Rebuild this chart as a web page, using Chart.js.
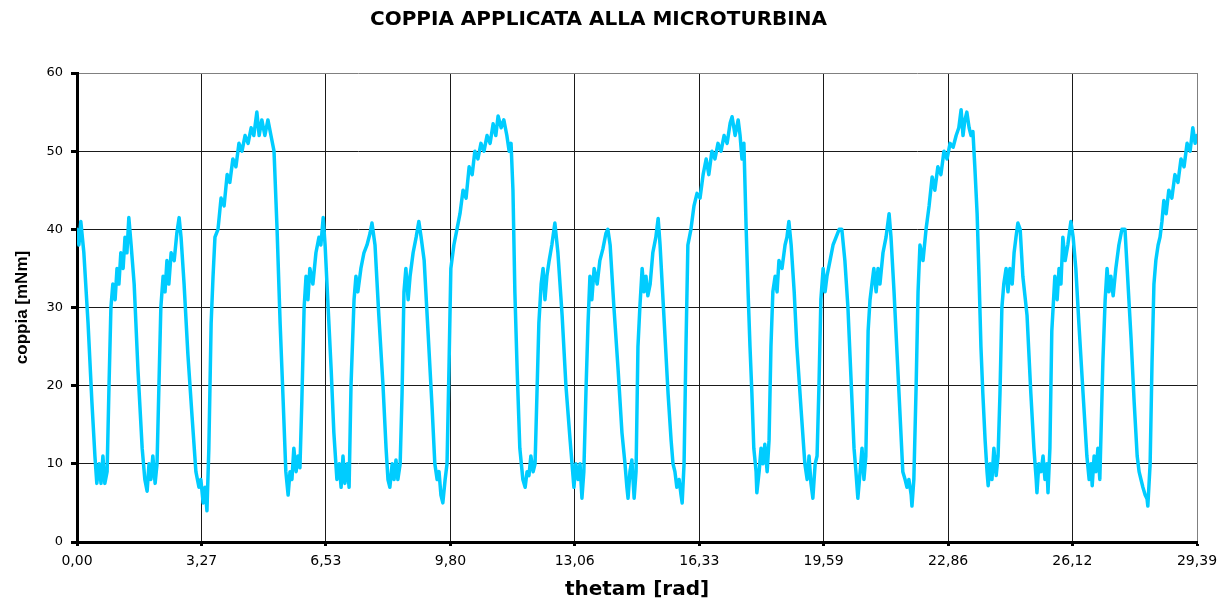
<!DOCTYPE html>
<html>
<head>
<meta charset="utf-8">
<title>Coppia applicata alla microturbina</title>
<script src="https://cdn.jsdelivr.net/npm/chart.js@4.4.1/dist/chart.umd.min.js"></script>
<style>
    html, body { margin: 0; padding: 0; background: #fff; }
    #wrap { width: 1218px; height: 600px; }
</style>
</head>
<body>
<div id="wrap"><canvas id="coppiaChart" width="1218" height="600"></canvas></div>
<script>
// angolo [rad]
const thetam = [
    0.00, 0.05, 0.10, 0.18, 0.29, 0.39, 0.47, 0.52, 0.58, 0.63, 0.68, 0.73, 0.79, 0.84, 0.89, 0.94, 1.00, 1.05, 1.10, 1.15,
    1.21, 1.26, 1.31, 1.36, 1.42, 1.50, 1.60, 1.71, 1.78, 1.84, 1.89, 1.94, 1.99, 2.05, 2.10, 2.15, 2.20, 2.26, 2.31, 2.36,
    2.41, 2.47, 2.55, 2.62, 2.68, 2.73, 2.81, 2.91, 3.02, 3.12, 3.20, 3.25, 3.31, 3.36, 3.41, 3.46, 3.52, 3.57, 3.62, 3.70,
    3.78, 3.86, 3.94, 4.01, 4.09, 4.17, 4.25, 4.33, 4.41, 4.49, 4.57, 4.64, 4.72, 4.78, 4.85, 4.93, 5.01, 5.09, 5.17, 5.25,
    5.33, 5.41, 5.48, 5.54, 5.59, 5.64, 5.69, 5.75, 5.80, 5.85, 5.90, 5.96, 6.01, 6.06, 6.11, 6.19, 6.27, 6.35, 6.40, 6.46,
    6.51, 6.59, 6.67, 6.74, 6.82, 6.88, 6.93, 6.98, 7.03, 7.09, 7.14, 7.19, 7.27, 7.32, 7.37, 7.45, 7.53, 7.61, 7.69, 7.74,
    7.82, 7.92, 8.03, 8.11, 8.16, 8.21, 8.27, 8.32, 8.37, 8.42, 8.48, 8.53, 8.58, 8.63, 8.69, 8.74, 8.82, 8.90, 8.97, 9.03,
    9.11, 9.21, 9.32, 9.39, 9.45, 9.50, 9.55, 9.60, 9.66, 9.71, 9.76, 9.81, 9.89, 9.97, 10.05, 10.13, 10.21, 10.29, 10.37, 10.44,
    10.52, 10.60, 10.68, 10.76, 10.84, 10.92, 10.99, 11.05, 11.13, 11.20, 11.28, 11.34, 11.39, 11.44, 11.49, 11.55, 11.62, 11.70, 11.76, 11.81,
    11.86, 11.91, 11.97, 12.02, 12.07, 12.12, 12.18, 12.23, 12.28, 12.33, 12.39, 12.46, 12.54, 12.62, 12.73, 12.83, 12.94, 12.99, 13.04, 13.09,
    13.15, 13.20, 13.25, 13.30, 13.36, 13.41, 13.46, 13.51, 13.57, 13.65, 13.72, 13.80, 13.88, 13.93, 13.99, 14.09, 14.20, 14.30, 14.38, 14.43,
    14.46, 14.51, 14.56, 14.62, 14.67, 14.72, 14.77, 14.83, 14.88, 14.93, 14.98, 15.04, 15.11, 15.19, 15.25, 15.30, 15.40, 15.51, 15.59, 15.64,
    15.69, 15.74, 15.80, 15.85, 15.88, 15.93, 15.98, 16.03, 16.11, 16.19, 16.27, 16.35, 16.43, 16.51, 16.58, 16.66, 16.74, 16.82, 16.90, 16.98,
    17.06, 17.14, 17.19, 17.27, 17.35, 17.40, 17.45, 17.50, 17.56, 17.61, 17.66, 17.71, 17.76, 17.82, 17.84, 17.90, 17.95, 18.00, 18.05, 18.11,
    18.16, 18.21, 18.26, 18.32, 18.37, 18.42, 18.50, 18.58, 18.63, 18.68, 18.74, 18.82, 18.89, 19.00, 19.10, 19.16, 19.21, 19.26, 19.31, 19.37,
    19.42, 19.47, 19.52, 19.58, 19.63, 19.68, 19.76, 19.84, 19.92, 20.00, 20.07, 20.15, 20.23, 20.31, 20.39, 20.44, 20.49, 20.55, 20.60, 20.65,
    20.70, 20.76, 20.81, 20.86, 20.91, 20.97, 21.02, 21.07, 21.15, 21.23, 21.31, 21.36, 21.44, 21.52, 21.60, 21.67, 21.73, 21.78, 21.83, 21.89,
    21.91, 21.96, 22.02, 22.07, 22.12, 22.20, 22.28, 22.36, 22.44, 22.51, 22.59, 22.67, 22.75, 22.83, 22.91, 22.99, 23.07, 23.14, 23.20, 23.25,
    23.30, 23.35, 23.41, 23.46, 23.51, 23.56, 23.62, 23.67, 23.72, 23.77, 23.83, 23.88, 23.91, 23.96, 24.01, 24.06, 24.12, 24.17, 24.22, 24.27,
    24.32, 24.38, 24.43, 24.48, 24.54, 24.59, 24.64, 24.69, 24.75, 24.82, 24.93, 25.03, 25.11, 25.17, 25.19, 25.24, 25.30, 25.35, 25.40, 25.45,
    25.48, 25.53, 25.58, 25.66, 25.72, 25.77, 25.82, 25.87, 25.93, 26.00, 26.08, 26.14, 26.21, 26.29, 26.40, 26.50, 26.56, 26.61, 26.64, 26.69,
    26.74, 26.79, 26.84, 26.92, 26.98, 27.03, 27.08, 27.13, 27.19, 27.26, 27.34, 27.42, 27.50, 27.58, 27.66, 27.74, 27.82, 27.87, 27.92, 27.97,
    28.03, 28.08, 28.10, 28.16, 28.21, 28.26, 28.31, 28.37, 28.42, 28.47, 28.52, 28.58, 28.65, 28.73, 28.81, 28.89, 28.97, 29.05, 29.13, 29.21,
    29.28, 29.34, 29.39
];

// coppia [mNm]
const coppia = [
    40, 38, 41, 37, 28, 18, 11, 7.5, 10, 7.5, 11, 7.5, 9, 20, 30, 33, 31, 35, 33, 37,
    35, 39, 37, 41.5, 38, 33, 22, 12, 8, 6.5, 10, 8, 11, 7.5, 10, 20, 30, 34, 32, 36,
    33, 37, 36, 39.5, 41.5, 39, 33, 24, 16, 9, 7, 8, 5, 7, 4, 12, 28, 34, 39, 40,
    44, 43, 47, 46, 49, 48, 51, 50, 52, 51, 53, 52, 55, 52, 54, 52, 54, 52, 50, 40,
    28, 18, 9, 6, 9, 8, 12, 9, 11, 9.5, 18, 30, 34, 31, 35, 33, 37, 39, 38, 41.5,
    38, 30, 22, 14, 8, 10, 7, 11, 7.5, 10, 7, 20, 31, 34, 32, 35, 37, 38, 39.5, 40.8,
    38, 29, 20, 12, 8, 7, 10, 8, 10.5, 8, 10, 19, 32, 35, 31, 34, 37, 39, 41, 39,
    36, 27, 17, 10, 8, 9, 6, 5, 8, 10, 22, 35, 38, 40, 42, 45, 44, 48, 47, 50,
    49, 51, 50, 52, 51, 53.5, 52, 54.5, 53, 54, 52, 50, 51, 45, 32, 22, 12, 8, 7, 9,
    8.5, 11, 9, 10, 19, 28, 33, 35, 31, 34, 36, 38, 40.8, 37, 29, 20, 13, 10, 7, 10,
    8, 10, 5.6, 9, 20, 28, 34, 31, 35, 33, 36, 37.5, 39.5, 40, 38, 30, 22, 14, 10, 7,
    5.6, 9, 10.5, 5.6, 9, 25, 30, 35, 32, 34, 31.5, 33, 37, 39, 41.4, 38, 29, 19, 13, 10,
    9, 7, 8, 6, 5, 10, 25, 38, 40, 43, 44.6, 44, 47, 49, 47, 50, 49, 51, 50, 52,
    51, 53.6, 54.4, 52, 54, 52, 49, 51, 40, 32, 25, 19, 12, 9, 6.3, 9, 12, 10, 12.5, 9,
    13, 25, 32, 34, 32, 36, 35, 38, 39, 41, 38, 32, 25, 17, 10, 8, 11, 7.5, 5.6, 10,
    11, 20, 31, 35, 32, 34, 36, 38, 39, 40, 40, 36, 30, 21, 12, 9, 5.6, 9, 12, 8,
    11, 27, 31, 33, 35, 32, 35, 33, 37, 39, 42, 39, 32, 24, 16, 9, 8, 7, 8, 6,
    4.6, 8, 20, 32, 38, 36, 40, 43, 46.7, 45, 48, 47, 50, 49, 51, 50.5, 52, 53, 55.3, 52,
    54, 55, 53, 52, 52.5, 48, 42, 34, 25, 19, 13, 9, 7.2, 10, 8, 12, 8.5, 11, 19, 30,
    33, 35, 32, 35, 33, 37, 39, 40.8, 40, 34, 29, 19, 12, 8, 6.3, 10, 9, 11, 8, 10,
    6.3, 12, 27, 34, 31, 35, 33, 39, 36, 38, 41, 39, 35, 28, 19, 11, 8, 10, 7.2, 11,
    9, 12, 8, 23, 31, 35, 32, 34, 31.5, 35, 38, 40, 40, 33, 26, 18, 11, 9, 8, 7,
    6, 5.5, 4.6, 10, 23, 33, 36, 38, 39, 41, 43.7, 42, 45, 44, 47, 46, 49, 48, 51, 50,
    53, 51, 52
];

// etichette asse x
const xTicks = [0, 3.27, 6.53, 9.80, 13.06, 16.33, 19.59, 22.86, 26.12, 29.39];
const xTickLabels = ['0,00', '3,27', '6,53', '9,80', '13,06', '16,33', '19,59', '22,86', '26,12', '29,39'];

const points = thetam.map((t, i) => ({ x: t, y: coppia[i] }));

const wideFont = "'DejaVu Sans', 'Liberation Sans', Arial, sans-serif";
Chart.defaults.font.family = wideFont;
Chart.defaults.color = '#000';

const ctx = document.getElementById('coppiaChart').getContext('2d');
const coppiaChart = new Chart(ctx, {
    type: 'line',
    data: {
        datasets: [
            {
                label: 'coppia',
                data: points,
                borderColor: '#00CCFF',
                borderWidth: 3.5,
                borderJoinStyle: 'round',
                borderCapStyle: 'round',
                pointRadius: 0,
                tension: 0,
                fill: false,
            },
        ],
    },
    options: {
        responsive: false,
        animation: false,
        layout: {
            padding: { left: 0, right: 21, top: 0, bottom: 0 },
        },
        plugins: {
            legend: { display: false },
            tooltip: { enabled: false },
            title: {
                display: true,
                text: 'COPPIA APPLICATA ALLA MICROTURBINA',
                font: { size: 20, weight: 'bold', family: wideFont },
                color: '#000',
                padding: { top: 8, bottom: 41 },
            },
        },
        scales: {
            x: {
                type: 'linear',
                min: 0,
                max: 29.39,
                afterBuildTicks: (scale) => {
                    scale.ticks = xTicks.map((v) => ({ value: v }));
                },
                afterFit: (scale) => {
                    scale.height = 58;
                    scale.paddingLeft = 0;
                    scale.paddingRight = 0;
                },
                ticks: {
                    autoSkip: false,
                    maxRotation: 0,
                    padding: 7,
                    font: { size: 14 },
                    color: '#000',
                    callback: (value, index) => xTickLabels[index],
                },
                grid: {
                    color: (c) => (c.tick && c.tick.value === 29.39 ? '#808080' : '#1a1a1a'),
                    lineWidth: 1,
                    drawTicks: true,
                    tickLength: 4,
                    tickColor: '#000',
                    tickWidth: 3,
                },
                border: { display: true, color: '#000', width: 3 },
                title: {
                    display: true,
                    text: 'thetam [rad]',
                    font: { size: 20, weight: 'bold', lineHeight: 1 },
                    color: '#000',
                    padding: { top: 0, bottom: 0 },
                },
            },
            y: {
                min: 0,
                max: 60,
                afterFit: (scale) => {
                    scale.width = 77;
                },
                ticks: {
                    stepSize: 10,
                    padding: 8,
                    font: { size: 13 },
                    color: '#000',
                },
                grid: {
                    color: (c) => (c.tick && c.tick.value === 60 ? '#808080' : '#1a1a1a'),
                    lineWidth: 1,
                    drawTicks: true,
                    tickLength: 6,
                    tickColor: '#000',
                    tickWidth: 3,
                },
                border: { display: true, color: '#000', width: 3 },
                title: {
                    display: true,
                    text: 'coppia [mNm]',
                    font: { size: 17, weight: 'bold', family: "'Liberation Sans', Arial, sans-serif" },
                    color: '#000',
                    padding: { top: 12, bottom: 4 },
                },
            },
        },
    },
});
</script>
</body>
</html>
